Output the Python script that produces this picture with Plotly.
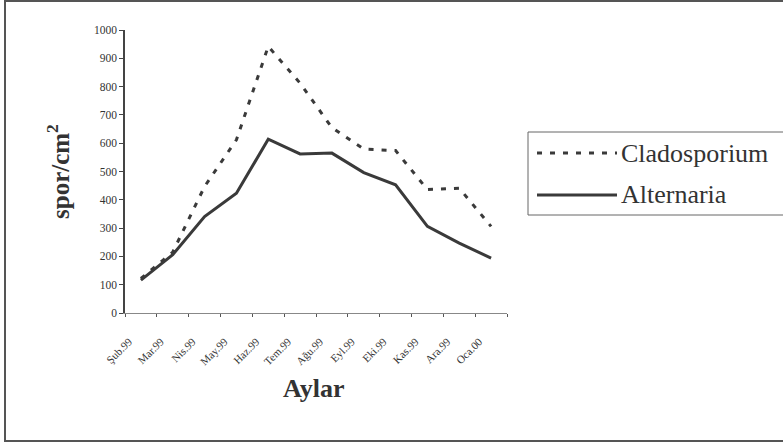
import plotly.graph_objects as go

# Monthly spore counts (spor/cm²), Feb 1999 - Jan 2000
months = ["Şub.99", "Mar.99", "Nis.99", "May.99", "Haz.99", "Tem.99",
          "Ağu.99", "Eyl.99", "Eki.99", "Kas.99", "Ara.99", "Oca.00"]
cladosporium = [122, 215, 447, 612, 942, 812, 655, 579, 574, 436, 441, 306]
alternaria = [116, 206, 341, 423, 614, 562, 565, 496, 453, 306, 247, 194]
y_ticks = [0, 100, 200, 300, 400, 500, 600, 700, 800, 900, 1000]

SERIF = "Liberation Serif, Times New Roman, serif"
INK = "#3a3a3a"

# plot area in pixels: x 125..507, y 30..313
L, R, T, B = 125, 507, 30, 313
W, H = 783, 446


def px(x):
    return (x - L) / (R - L)


def py(y):
    return (B - y) / (B - T)


fig = go.Figure()
fig.add_trace(go.Scatter(
    x=months, y=cladosporium, name="Cladosporium", mode="lines",
    line=dict(color=INK, width=3, dash="5px,8px"), showlegend=False))
fig.add_trace(go.Scatter(
    x=months, y=alternaria, name="Alternaria", mode="lines",
    line=dict(color=INK, width=3), showlegend=False))

shapes = [
    # outer frame (runs off the right edge)
    dict(type="rect", xref="paper", yref="paper",
         x0=px(5), x1=px(795), y0=py(441), y1=py(1),
         line=dict(color="#555555", width=2)),
    # legend box (runs off the right edge)
    dict(type="rect", xref="paper", yref="paper",
         x0=px(528), x1=px(795), y0=py(215), y1=py(132),
         line=dict(color="#666666", width=1)),
    # legend samples
    dict(type="line", xref="paper", yref="paper",
         x0=px(537), x1=px(617), y0=py(153), y1=py(153),
         line=dict(color=INK, width=3, dash="5px,8px")),
    dict(type="line", xref="paper", yref="paper",
         x0=px(537), x1=px(617), y0=py(195), y1=py(195),
         line=dict(color=INK, width=3)),
]

annotations = [
    dict(text="Cladosporium", xref="paper", yref="paper", x=px(619), y=py(153),
         xanchor="left", yanchor="middle", showarrow=False,
         font=dict(family=SERIF, size=26, color="#333333")),
    dict(text="Alternaria", xref="paper", yref="paper", x=px(619), y=py(195),
         xanchor="left", yanchor="middle", showarrow=False,
         font=dict(family=SERIF, size=26, color="#333333")),
    dict(text="<b>spor/cm<sup>2</sup></b>", xref="paper", yref="paper",
         x=px(58), y=py(172), xanchor="center", yanchor="middle",
         textangle=-90, showarrow=False,
         font=dict(family=SERIF, size=25, color="#333333")),
    dict(text="<b>Aylar</b>", xref="paper", yref="paper",
         x=px(314), y=py(388), xanchor="center", yanchor="middle",
         showarrow=False,
         font=dict(family=SERIF, size=26, color="#333333")),
]

fig.update_layout(
    width=W, height=H,
    margin=dict(l=L, r=W - R, t=T, b=H - B, pad=0),
    paper_bgcolor="white", plot_bgcolor="white",
    shapes=shapes, annotations=annotations,
    showlegend=False,
)
fig.update_xaxes(
    type="category", categoryorder="array", categoryarray=months,
    range=[-0.5, len(months) - 0.5],
    showgrid=False, zeroline=False,
    showline=True, linecolor="#888888", linewidth=1,
    ticks="outside", ticklen=3, tickcolor="#555555", tickson="boundaries",
    tickangle=-45, ticklabelshift=-12, ticklabelstandoff=17,
    tickfont=dict(family=SERIF, size=11, color="#333333"),
)
fig.update_yaxes(
    range=[0, 1000], tickvals=y_ticks,
    showgrid=False, zeroline=False,
    showline=True, linecolor="#444444", linewidth=1.5,
    ticks="outside", ticklen=4, tickcolor="#444444",
    tickfont=dict(family=SERIF, size=11.5, color="#333333"),
)

fig.write_html("out.html")
